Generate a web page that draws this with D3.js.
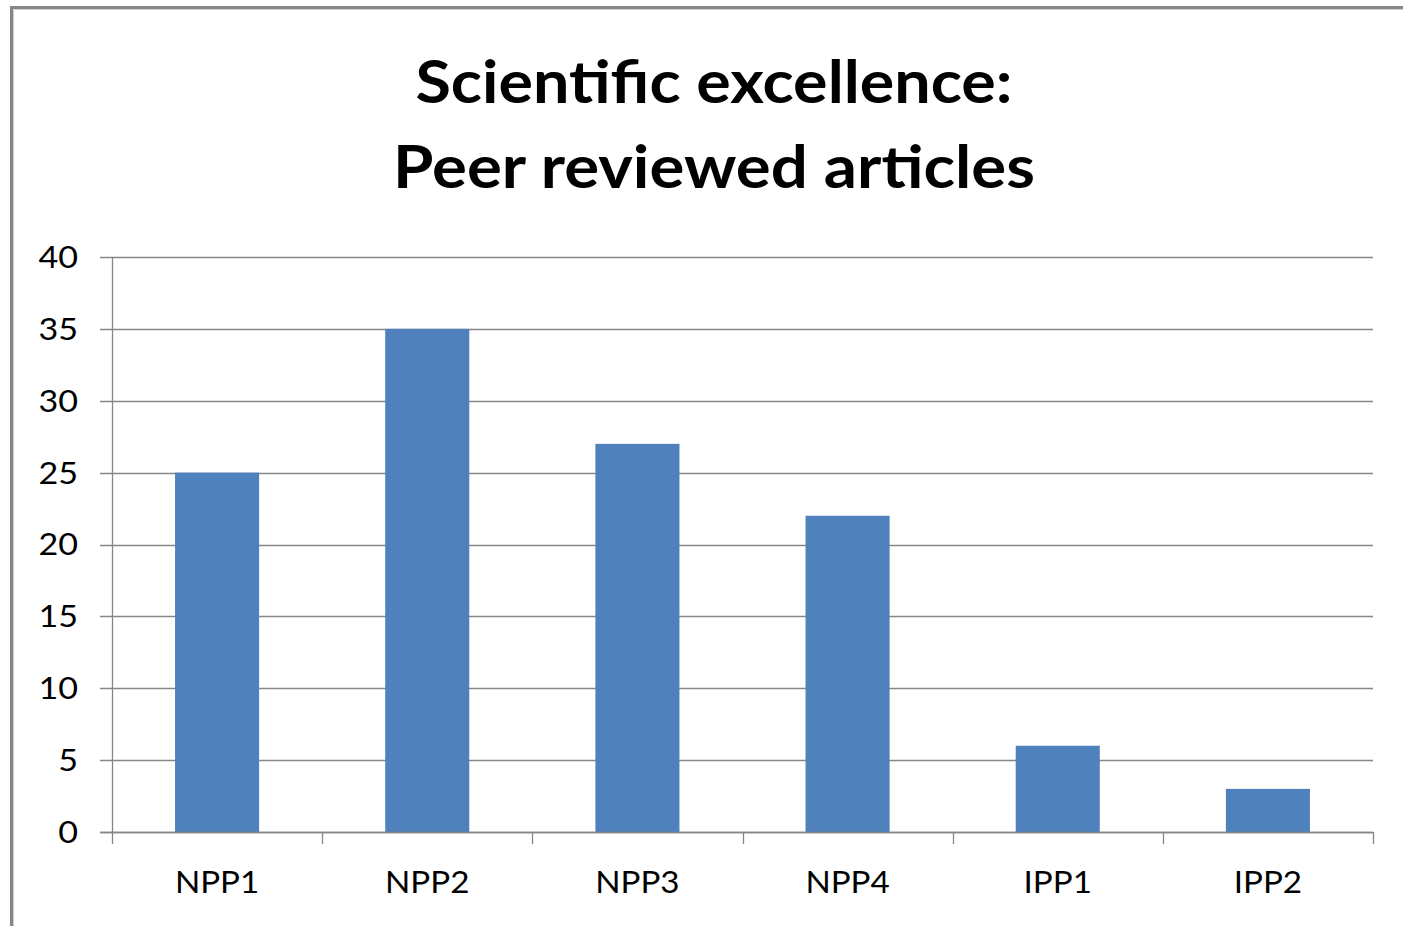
<!DOCTYPE html>
<html><head><meta charset="utf-8">
<script src="https://cdn.jsdelivr.net/npm/d3@7"></script>
<style>html,body{margin:0;padding:0;background:#fff;}svg{display:block;}</style>
</head><body>
<script>
const categories = ["NPP1","NPP2","NPP3","NPP4","IPP1","IPP2"];
const values = [25, 35, 27, 22, 6, 3];
const yTicks = [0,5,10,15,20,25,30,35,40];
const titleLines = ["Scientific excellence:", "Peer reviewed articles"];

(function(){
const W = 1403, H = 926;
const svg = d3.select("body").append("svg").attr("width", W).attr("height", H);
svg.append("rect").attr("width", W).attr("height", H).attr("fill", "#fff");

// frame
svg.append("path").attr("d", `M11.5,${H+5} V7.5 H${W+5}`).attr("fill","none").attr("stroke","#868686").attr("stroke-width",3);
svg.append("path").attr("d", `M13.5,${H+5} V9.5 H${W+5}`).attr("fill","none").attr("stroke","#d0d0d0").attr("stroke-width",1);

const pLeft = 112, pRight = 1373, pTop = 257, pBottom = 832;
const x = d3.scaleBand().domain(categories).range([pLeft, pRight]).paddingInner(0.6).paddingOuter(0.3);
const xb = d3.scaleBand().domain(categories).range([pLeft, pRight]);
const y = d3.scaleLinear().domain([0, 40]).range([pBottom, pTop]);

const font = "Lato, 'Open Sans', sans-serif";

// gridlines
svg.append("g").selectAll("line").data(yTicks).join("line")
  .attr("x1", pLeft - 12).attr("x2", pRight)
  .attr("y1", d => Math.round(y(d)) + 0.5).attr("y2", d => Math.round(y(d)) + 0.5)
  .attr("stroke", "#868686").attr("stroke-width", 1.3);

// y axis line
svg.append("line").attr("x1", pLeft+0.5).attr("x2", pLeft+0.5).attr("y1", pTop).attr("y2", pBottom)
  .attr("stroke", "#868686").attr("stroke-width", 1.3);

// x tick marks
const xTickPos = categories.map(c => xb(c)).concat([pRight]);
svg.append("g").selectAll("line").data(xTickPos).join("line")
  .attr("x1", d => Math.round(d)+0.5).attr("x2", d => Math.round(d)+0.5)
  .attr("y1", pBottom).attr("y2", pBottom + 12)
  .attr("stroke", "#868686").attr("stroke-width", 1.3);

// bars
svg.append("g").selectAll("rect").data(values).join("rect")
  .attr("x", (d,i) => x(categories[i]))
  .attr("width", x.bandwidth())
  .attr("y", d => y(d))
  .attr("height", d => pBottom - y(d))
  .attr("fill", "#4f81bd");

// redraw baseline over bars
svg.append("line").attr("x1", pLeft - 12).attr("x2", pRight).attr("y1", pBottom+0.5).attr("y2", pBottom+0.5)
  .attr("stroke", "#868686").attr("stroke-width", 1.3);

// y labels
svg.append("g").selectAll("text").data(yTicks).join("text")
  .attr("x", 78).attr("y", d => y(d) + 11)
  .attr("text-anchor", "end")
  .attr("font-family", font).attr("font-size", 31).attr("fill", "#000")
  .attr("transform", d => `translate(78,0) scale(1.1,1) translate(-78,0)`)
  .text(d => d);

// x labels
svg.append("g").selectAll("text").data(categories).join("text")
  .attr("x", d => xb(d) + xb.bandwidth()/2).attr("y", 893)
  .attr("text-anchor", "middle")
  .attr("font-family", font).attr("font-size", 31).attr("fill", "#000")
  .attr("transform", d => { const cx = xb(d) + xb.bandwidth()/2; return `translate(${cx},0) scale(1.07,1) translate(${-cx},0)`; })
  .text(d => d);

// title
const titleWidths = [597, 642];
svg.append("g").selectAll("text").data(titleLines).join("text")
  .attr("x", 714).attr("y", (d,i) => 103 + i*85)
  .attr("text-anchor", "middle")
  .attr("font-family", font).attr("font-weight", "bold").attr("font-size", 59).attr("fill", "#000")
  .attr("textLength", (d,i) => titleWidths[i]).attr("lengthAdjust", "spacingAndGlyphs")
  .text(d => d);
})();
</script>
</body></html>
